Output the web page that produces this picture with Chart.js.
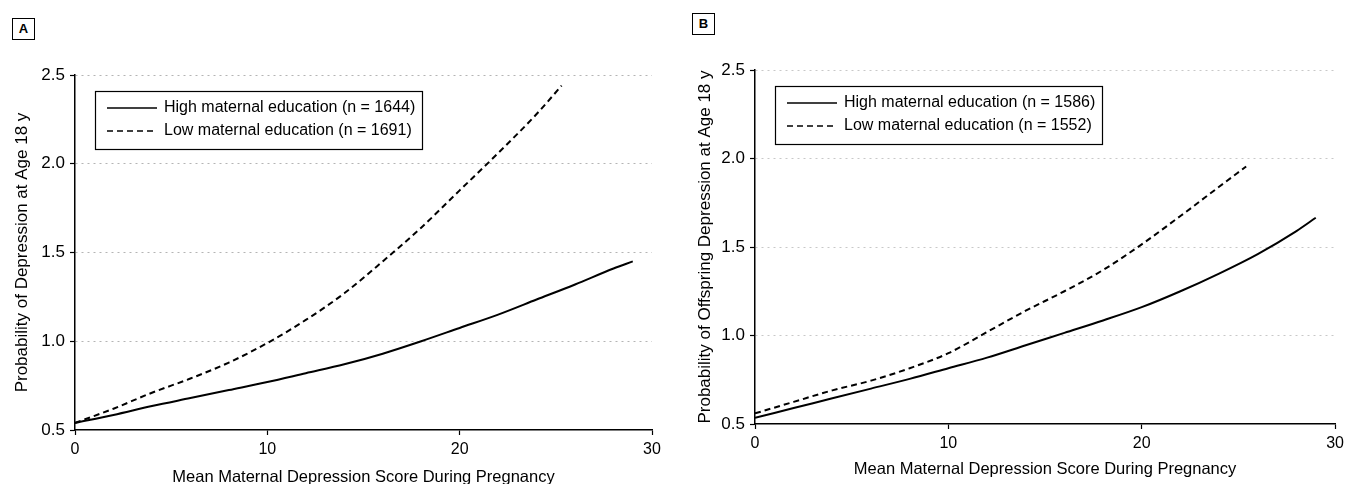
<!DOCTYPE html>
<html>
<head>
<meta charset="utf-8">
<script src="https://cdn.jsdelivr.net/npm/chart.js@4.4.1/dist/chart.umd.min.js"></script>
<style>
  html, body { margin: 0; padding: 0; background: #fff; }
  body { width: 1349px; height: 484px; position: relative; overflow: hidden; font-family: "Liberation Sans", Arial, sans-serif; }
  .panel { position: absolute; top: 0; }
  .tag { position: absolute; width: 21px; height: 20px; border: 1px solid #000; font: bold 13px "Liberation Sans", Arial, sans-serif; text-align: center; line-height: 20px; color: #000; }
</style>
</head>
<body>
<div class="tag" style="left:12px; top:18px;">A</div>
<div class="tag" style="left:692px; top:13px;">B</div>
<div class="panel" style="left:0px;"><canvas id="chartA" width="680" height="484"></canvas></div>
<div class="panel" style="left:680px;"><canvas id="chartB" width="669" height="484"></canvas></div>
<script>
// ---- Data ----
const yTicks = [0.5, 1.0, 1.5, 2.0, 2.5];
const xTicks = [0, 10, 20, 30];

// Panel A
const labelHighA = "High maternal education (n = 1644)";
const labelLowA  = "Low maternal education (n = 1691)";
const scoreHighA = [0, 2, 4, 6, 8, 10, 12, 14, 16, 18, 20, 22, 24, 26, 28, 29];
const probHighA  = [0.54, 0.585, 0.635, 0.68, 0.725, 0.77, 0.82, 0.87, 0.93, 1.0, 1.075, 1.15, 1.235, 1.32, 1.41, 1.45];
const scoreLowA  = [0, 2, 4, 6, 8, 10, 12, 14, 16, 18, 20, 22, 24, 25.3];
const probLowA   = [0.54, 0.62, 0.71, 0.79, 0.88, 0.99, 1.12, 1.27, 1.45, 1.64, 1.85, 2.06, 2.28, 2.44];

// Panel B
const labelHighB = "High maternal education (n = 1586)";
const labelLowB  = "Low maternal education (n = 1552)";
const scoreHighB = [0, 2, 4, 6, 8, 10, 12, 14, 16, 18, 20, 22, 24, 26, 28, 29];
const probHighB  = [0.535, 0.59, 0.645, 0.70, 0.755, 0.815, 0.875, 0.945, 1.015, 1.085, 1.16, 1.25, 1.35, 1.46, 1.59, 1.665];
const scoreLowB  = [0, 2, 4, 6, 8, 10, 12, 14, 16, 18, 20, 22, 24, 25.4];
const probLowB   = [0.56, 0.625, 0.69, 0.745, 0.815, 0.9, 1.02, 1.14, 1.25, 1.37, 1.515, 1.675, 1.84, 1.955];

const xTitle = "Mean Maternal Depression Score During Pregnancy";
const yTitleA = "Probability of Depression at Age 18 y";
const yTitleB = "Probability of Offspring Depression at Age 18 y";

// ---- Helpers ----
const FONT = '"Liberation Sans", Arial, sans-serif';
const toPoints = (xs, ys) => xs.map((x, i) => ({ x: x, y: ys[i] }));

const boxedLegend = {
  id: 'boxedLegend',
  afterDraw(chart, args, opts) {
    const { ctx, chartArea } = chart;
    const x0 = chartArea.left + opts.dx, y0 = chartArea.top + opts.dy;
    ctx.save();
    ctx.fillStyle = '#fff';
    ctx.fillRect(x0, y0, opts.w, opts.h);
    ctx.strokeStyle = '#000';
    ctx.lineWidth = 1.2;
    ctx.setLineDash([]);
    ctx.strokeRect(x0 + 0.5, y0 + 0.5, opts.w, opts.h);
    chart.data.datasets.forEach((ds, i) => {
      const ry = y0 + opts.rows[i];
      ctx.beginPath();
      ctx.setLineDash(ds.borderDash || []);
      ctx.lineWidth = 1.6;
      ctx.strokeStyle = '#000';
      ctx.moveTo(x0 + 12, ry);
      ctx.lineTo(x0 + 62, ry);
      ctx.stroke();
      ctx.setLineDash([]);
      ctx.fillStyle = '#000';
      ctx.font = '16px ' + FONT;
      ctx.textBaseline = 'middle';
      ctx.textAlign = 'left';
      ctx.fillText(ds.label, x0 + 69, ry);
    });
    ctx.restore();
  }
};

function makeChart(id, cfg) {
  return new Chart(document.getElementById(id), {
    type: 'line',
    data: {
      datasets: [
        { label: cfg.labelHigh, data: toPoints(cfg.xHigh, cfg.yHigh), borderColor: '#000', borderWidth: 2, pointRadius: 0, cubicInterpolationMode: 'monotone', fill: false },
        { label: cfg.labelLow, data: toPoints(cfg.xLow, cfg.yLow), borderColor: '#000', borderWidth: 2, borderDash: [6, 4], pointRadius: 0, cubicInterpolationMode: 'monotone', fill: false }
      ]
    },
    options: {
      responsive: false,
      animation: false,
      devicePixelRatio: 1,
      layout: { padding: { left: 0, top: cfg.padTop, right: cfg.padRight, bottom: 0 } },
      plugins: {
        legend: { display: false },
        tooltip: { enabled: false },
        boxedLegend: { dx: 20, dy: 16, w: 327, h: 58, rows: [17, 40] }
      },
      scales: {
        x: {
          type: 'linear',
          min: 0, max: 30,
          afterFit: s => { s.height = cfg.xAxisH; },
          afterBuildTicks: s => { s.ticks = xTicks.map(v => ({ value: v })); },
          ticks: { color: '#000', font: { size: 16, family: FONT }, padding: 5, maxRotation: 0, callback: v => String(v) },
          grid: { drawOnChartArea: false, drawTicks: true, tickLength: 5, tickColor: '#000', tickWidth: 1.2 },
          border: { display: true, color: '#000', width: 1.5 },
          title: { display: true, text: xTitle, color: '#000', font: { size: 16.5, family: FONT, lineHeight: 1 }, padding: { top: 0, bottom: cfg.xTitlePad } }
        },
        y: {
          type: 'linear',
          min: 0.5, max: 2.5,
          afterFit: s => { s.width = 75; },
          afterBuildTicks: s => { s.ticks = yTicks.map(v => ({ value: v })); },
          ticks: { color: '#000', font: { size: 17, family: FONT }, padding: 5, callback: v => Number(v).toFixed(1) },
          grid: {
            drawOnChartArea: true, drawTicks: true, tickLength: 5, tickColor: '#000', tickWidth: 1.2,
            color: ctx => (ctx.tick && ctx.tick.value === 0.5) ? 'rgba(0,0,0,0)' : cfg.gridColor,
            lineWidth: 1
          },
          border: { display: true, color: '#000', width: 1.5, dash: [2, 4] },
          title: { display: true, text: cfg.yTitle, color: '#000', font: { size: 17, family: FONT }, padding: { top: cfg.yTitlePad, bottom: 0 } }
        }
      }
    },
    plugins: [boxedLegend]
  });
}

makeChart('chartA', {
  labelHigh: labelHighA, labelLow: labelLowA,
  xHigh: scoreHighA, yHigh: probHighA, xLow: scoreLowA, yLow: probLowA,
  padTop: 75, padRight: 28, xAxisH: 54, xTitlePad: -2, yTitle: yTitleA, yTitlePad: 12,
  gridColor: '#b4b4b4'
});
makeChart('chartB', {
  labelHigh: labelHighB, labelLow: labelLowB,
  xHigh: scoreHighB, yHigh: probHighB, xLow: scoreLowB, yLow: probLowB,
  padTop: 70, padRight: 11, xAxisH: 60, xTitlePad: 6, yTitle: yTitleB, yTitlePad: 15,
  gridColor: '#c8c8c8'
});
</script>
</body>
</html>
